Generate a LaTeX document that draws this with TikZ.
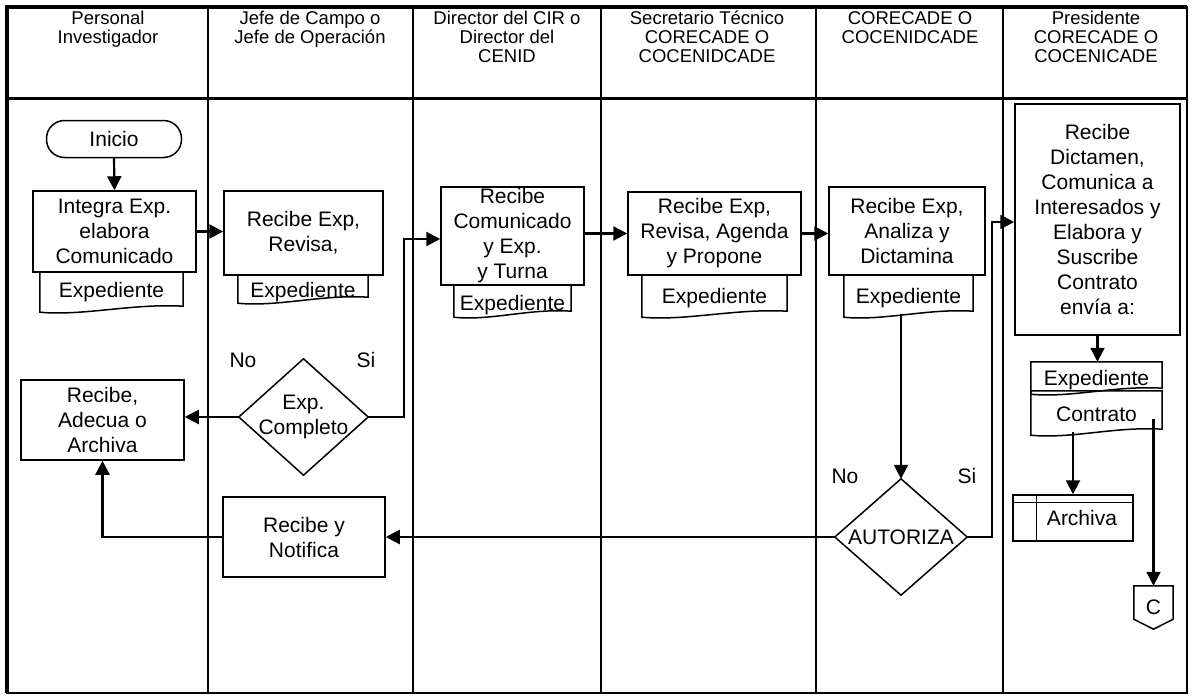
\documentclass[tikz,border=0pt]{standalone}
\usepackage{fontspec}
\setmainfont{Liberation Sans}
\usetikzlibrary{arrows.meta,calc}

\begin{document}
\begin{tikzpicture}[x=1pt,y=-1pt,>={Triangle[length=14pt,width=14pt]},
	lane/.style={line width=1.6pt},
	lanehead/.style={anchor=north,align=center,inner sep=0pt,font=\fontsize{18.5}{19}\selectfont},
	proc/.style={draw,line width=1.5pt,align=center,inner sep=0pt,font=\fontsize{21}{25}\selectfont},
	docnode/.style={align=center,inner sep=0pt,font=\fontsize{21}{25}\selectfont},
	conn/.style={line width=2.2pt},
	arr/.style={conn,->}]
	\useasboundingbox (0,0) rectangle (1192,699);
	
	\draw[line width=2pt] (7,7) rectangle (1187,693);
	\draw[line width=4.5pt] (7,693) -- (7,7) -- (1187,7);
	\draw[line width=3pt] (7,98) -- (1187,98);
	\foreach \x in {208,413,601,816,1003} \draw[lane] (\x,7) -- (\x,693);
	
	\node[lanehead] (h1) at (108,11) {Personal\\Investigador};
	\node[lanehead] (h2) at (310,11) {Jefe de Campo o\\Jefe de Operación};
	\node[lanehead] (h3) at (507,11) {Director del CIR o\\Director del\\CENID};
	\node[lanehead] (h4) at (707,11) {Secretario Técnico\\CORECADE O\\COCENIDCADE};
	\node[lanehead] (h5) at (910,11) {CORECADE O\\COCENIDCADE};
	\node[lanehead] (h6) at (1096,11) {Presidente\\CORECADE O\\COCENICADE};
	
	\node[proc,rounded corners=18pt,minimum width=135pt,minimum height=37pt] (inicio) at (114,139) {Inicio};
	\node[proc,minimum width=163pt,minimum height=81pt] (integra) at (114.5,231.5) {Integra Exp.\\elabora\\Comunicado};
	\node[proc,minimum width=159pt,minimum height=84pt] (revisa) at (303.5,233) {Recibe Exp,\\Revisa,};
	\node[proc,minimum width=143pt,minimum height=98pt] (director) at (512.5,236) {Recibe\\Comunicado\\y Exp.\\y Turna};
	\node[proc,minimum width=173pt,minimum height=83pt] (secretario) at (714.5,233.5) {Recibe Exp,\\Revisa, Agenda\\y Propone};
	\node[proc,minimum width=156pt,minimum height=88pt] (dictamina) at (907,231) {Recibe Exp,\\Analiza y\\Dictamina};
	\node[proc,minimum width=165pt,minimum height=231pt] (presidente) at (1097.5,219.5) {Recibe\\Dictamen,\\Comunica a\\Interesados y\\Elabora y\\Suscribe\\Contrato\\envía a:};
	\node[proc,minimum width=163pt,minimum height=80pt] (adecua) at (102.5,420) {Recibe,\\Adecua o\\Archiva};
	\node[proc,minimum width=162pt,minimum height=80pt] (notifica) at (304,537) {Recibe y\\Notifica};
	
	\node[docnode,minimum width=143pt,minimum height=37pt] (expA) at (111.5,290.5) {\raisebox{-2pt}[\height][\depth]{Expediente}};
	\node[docnode,minimum width=130pt,minimum height=25pt] (expB) at (303,287.5) {\raisebox{-5pt}[\height][\depth]{Expediente}};
	\node[docnode,minimum width=117pt,minimum height=29pt] (expC) at (512.5,299.5) {\raisebox{-6pt}[\height][\depth]{Expediente}};
	\node[docnode,minimum width=145pt,minimum height=39pt] (expD) at (714.5,294.5) {\raisebox{-4pt}[\height][\depth]{Expediente}};
	\node[docnode,minimum width=129pt,minimum height=39pt] (expE) at (908.5,294.5) {\raisebox{-4pt}[\height][\depth]{Expediente}};
	\node[docnode,minimum width=131pt,minimum height=29pt] (expF) at (1096.5,376.5) {\raisebox{-4pt}[\height][\depth]{Expediente}};
	\node[docnode,minimum width=131pt,minimum height=41pt] (contrato) at (1096.5,411.5) {\raisebox{-3pt}[\height][\depth]{Contrato}};
	\foreach \d in {expA,expB,expC,expD,expE,expF,contrato}
		\draw[line width=1.5pt] (\d.north west) -- ($(\d.south west)+(0,3)$) .. controls ($(\d.south west)!0.3!(\d.south east)+(0,7)$) and ($(\d.south west)!0.65!(\d.south east)+(0,-6)$) .. ($(\d.south east)+(0,-3)$) -- (\d.north east) -- cycle;
	
	\node[docnode,minimum width=129pt,minimum height=116pt] (completo) at (303.5,417) {Exp.\\Completo};
	\node[docnode,minimum width=132pt,minimum height=116pt] (autoriza) at (901,537) {AUTORIZA};
	\foreach \d in {completo,autoriza}
		\draw[line width=1.5pt] (\d.north) -- (\d.east) -- (\d.south) -- (\d.west) -- cycle;
	
	\node[docnode] (noA) at (243,360) {No};
	\node[docnode] (siA) at (366,360) {Si};
	\node[docnode] (noB) at (845,476) {No};
	\node[docnode] (siB) at (967,476) {Si};
	
	\node[proc,minimum width=120pt,minimum height=46pt] (archiva) at (1073,518) {\hspace*{18pt}Archiva};
	\draw[line width=1.5pt] ($(archiva.north west)+(0,8)$) -- ($(archiva.north east)+(0,8)$);
	\draw[line width=1.5pt] ($(archiva.north west)+(24,0)$) -- ($(archiva.south west)+(24,0)$);
	
	\node[docnode,minimum width=39pt,minimum height=43pt] (offC) at (1153.5,607.5) {C};
	\draw[line width=1.5pt] (offC.north west) -- ($(offC.south west)+(0,-10)$) -- (offC.south) -- ($(offC.south east)+(0,-10)$) -- (offC.north east) -- cycle;
	
	\coordinate (jogA) at (404,239);
	\coordinate (jogB) at (992,222);
	\draw[arr] (inicio.south) -- (integra.north);
	\draw[arr] (integra.east) -- (integra.east -| revisa.west);
	\draw[arr] (completo.east) -| (jogA) -- (jogA -| director.west);
	\draw[arr] (completo.west) -- (completo.west -| adecua.east);
	\draw[arr] (director.east |- secretario.west) -- (secretario.west);
	\draw[arr] (secretario.east) -- (secretario.east -| dictamina.west);
	\draw[arr] (autoriza.north |- expE.south) -- (autoriza.north);
	\draw[arr] (autoriza.east) -| (jogB) -- (jogB -| presidente.west);
	\draw[arr] (autoriza.west) -- (autoriza.west -| notifica.east);
	\draw[arr] (notifica.west) -| (adecua.south);
	\draw[arr] (presidente.south) -- (presidente.south |- expF.north);
	\draw[arr] (archiva.north |- contrato.south) -- (archiva.north);
	\draw[arr] ($(offC.north |- contrato.east)+(0,7)$) -- (offC.north);
\end{tikzpicture}
\end{document}
